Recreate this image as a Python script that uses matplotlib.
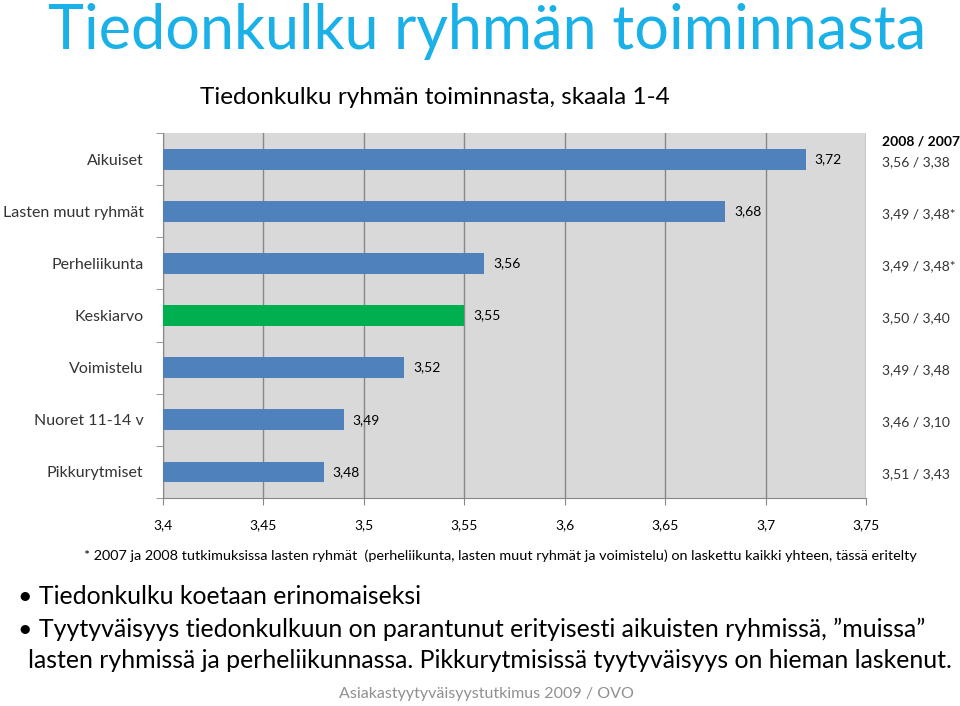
import matplotlib.pyplot as plt
import matplotlib.transforms as mtransforms
import numpy as np

plt.rcParams['font.family'] = ['Lato', 'DejaVu Sans']

# data
ryhmat = ['Aikuiset', 'Lasten muut ryhmät', 'Perheliikunta', 'Keskiarvo',
          'Voimistelu', 'Nuoret 11-14 v', 'Pikkurytmiset']
arvot_2009 = [3.72, 3.68, 3.56, 3.55, 3.52, 3.49, 3.48]
vertailu = ['3,56 / 3,38', '3,49 / 3,48*', '3,49 / 3,48*', '3,50 / 3,40',
            '3,49 / 3,48', '3,46 / 3,10', '3,51 / 3,43']
x_ticks = [3.4, 3.45, 3.5, 3.55, 3.6, 3.65, 3.7, 3.75]

sininen = '#4F81BD'
vihrea = '#00B050'
varit = [vihrea if r == 'Keskiarvo' else sininen for r in ryhmat]

fig = plt.figure(figsize=(9.6, 7.06), dpi=100)
ax = fig.add_axes([163 / 960, 1 - 498 / 706, (866 - 163) / 960, (498 - 133) / 706])

y = np.arange(len(ryhmat))
base = 3.4
ax.barh(y, [v - base for v in arvot_2009], left=base, height=0.4,
        color=varit, zorder=3)
for yi, v in zip(y, arvot_2009):
    ax.text(v + 0.0045, yi, f'{v:.2f}'.replace('.', ','), va='center',
            ha='left', fontsize=10, zorder=4)

ax.set_xlim(3.4, 3.75)
ax.set_ylim(len(ryhmat) - 0.5, -0.5)
ax.set_facecolor('#D9D9D9')
ax.set_xticks(x_ticks)
ax.set_xticklabels([f'{t:g}'.replace('.', ',') for t in x_ticks], fontsize=10)
ax.tick_params(axis='x', length=5, color='#878787', pad=10)
ax.grid(axis='x', color='#878787', linewidth=1, zorder=0)
ax.set_yticks(y)
ax.set_yticklabels(ryhmat, fontsize=11.5, color='#333333')
ax.tick_params(axis='y', length=0, pad=14)
ax.set_yticks(np.arange(-0.5, len(ryhmat), 1), minor=True)
ax.tick_params(axis='y', which='minor', length=5, color='#878787')
for s in ['top', 'right']:
    ax.spines[s].set_visible(False)
for s in ['left', 'bottom']:
    ax.spines[s].set_color('#878787')

# 2008 / 2007 sarake
fig.text(882 / 960, 1 - 141 / 706, '2008 / 2007', fontsize=10,
         fontweight='bold', va='center', ha='left')
trans = mtransforms.blended_transform_factory(fig.transFigure, ax.transData)
for yi, t in zip(y, vertailu):
    ax.text(882 / 960, yi + 0.05, t, transform=trans, fontsize=10, va='center',
            ha='left', color='#333333')

fig.text(0.507, 1 - 31 / 706, 'Tiedonkulku ryhmän toiminnasta', color='#1AB0E8',
         fontsize=44, ha='center', va='center')
fig.text(200 / 960, 1 - 98 / 706, 'Tiedonkulku ryhmän toiminnasta, skaala 1-4',
         fontsize=17.5, ha='left', va='center')
fig.text(0.521, 1 - 556 / 706,
         '* 2007 ja 2008 tutkimuksissa lasten ryhmät  (perheliikunta, lasten muut ryhmät ja voimistelu) on laskettu kaikki yhteen, tässä eritelty',
         fontsize=10.4, ha='center', va='center')
fig.text(18 / 960, 1 - 596 / 706, '• Tiedonkulku koetaan erinomaiseksi',
         fontsize=17.9, ha='left', va='center')
fig.text(18 / 960, 1 - 629 / 706,
         '• Tyytyväisyys tiedonkulkuun on parantunut erityisesti aikuisten ryhmissä, ”muissa”',
         fontsize=17.9, ha='left', va='center')
fig.text(28 / 960, 1 - 661 / 706,
         'lasten ryhmissä ja perheliikunnassa. Pikkurytmisissä tyytyväisyys on hieman laskenut.',
         fontsize=17.9, ha='left', va='center')
fig.text(0.507, 1 - 694 / 706, 'Asiakastyytyväisyystutkimus 2009 / OVO',
         fontsize=11.5, color='#909090', ha='center', va='center')

fig.savefig('out.png', dpi=100)
